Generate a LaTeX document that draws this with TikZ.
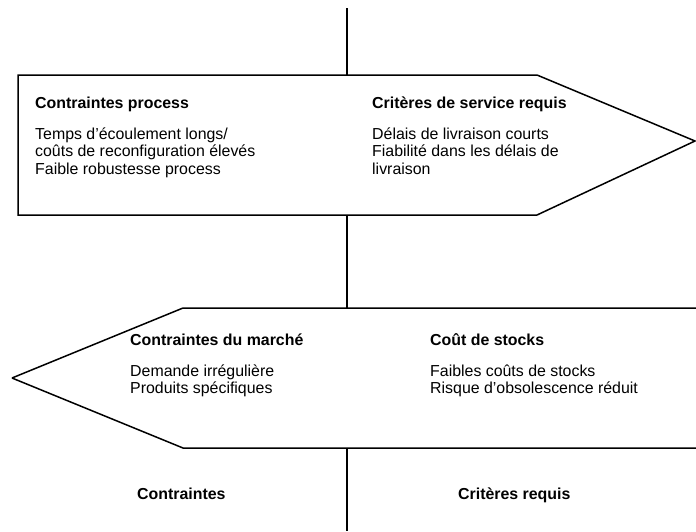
\documentclass[tikz,border=0pt]{standalone}
\usepackage{fontspec}
\setmainfont{Liberation Sans}
\newcommand{\bodylines}[1]{\begin{tabular}[t]{@{}l@{}}#1\end{tabular}}
\begin{document}
\begin{tikzpicture}[x=1pt,y=-1pt,
  txt/.style={anchor=base west,inner sep=0pt,font=\fontsize{15.9}{17.4}\selectfont},
  hd/.style={anchor=base west,inner sep=0pt,font=\fontsize{15.9}{17.4}\selectfont\bfseries},
  shp/.style={draw,line width=1.5pt,line join=miter},
  axis/.style={draw,line width=1.5pt}]
\useasboundingbox (0,0) rectangle (696,531);
% upper arrow (pointing right)
\coordinate (utop) at (347,75);
\coordinate (ubot) at (347,215);
\draw[shp] (18,75) -- (537,75) -- (695,141) -- (537,215) -- (18,215) -- cycle;
% lower arrow (pointing left)
\coordinate (ltop) at (347,308);
\coordinate (lbot) at (347,448);
\draw[shp] (12,378) -- (183,308) -- (697,308) (697,448) -- (183,448) -- (12,378);
% axis
\coordinate (axtop) at (347,8);
\coordinate (axbot) at (347,531);
\draw[axis] (axtop) -- (utop);
\draw[axis] (ubot) -- (ltop);
\draw[axis] (lbot) -- (axbot);
% texts
\node[hd] (h1) at (35,108) {Contraintes process};
\node[txt] (b1) at (35,139.5) {\bodylines{Temps d’écoulement longs/\\coûts de reconfiguration élevés\\Faible robustesse process}};
\node[hd] (h2) at (372,108) {Critères de service requis};
\node[txt] (b2) at (372,139.5) {\bodylines{Délais de livraison courts\\Fiabilité dans les délais de\\livraison}};
\node[hd] (h3) at (130,345) {Contraintes du marché};
\node[txt] (b3) at (130,376.5) {\bodylines{Demande irrégulière\\Produits spécifiques}};
\node[hd] (h4) at (430,345) {Coût de stocks};
\node[txt] (b4) at (430,376.5) {\bodylines{Faibles coûts de stocks\\Risque d’obsolescence réduit}};
\node[hd] (l1) at (137,499) {Contraintes};
\node[hd] (l2) at (458,499) {Critères requis};
\end{tikzpicture}
\end{document}
